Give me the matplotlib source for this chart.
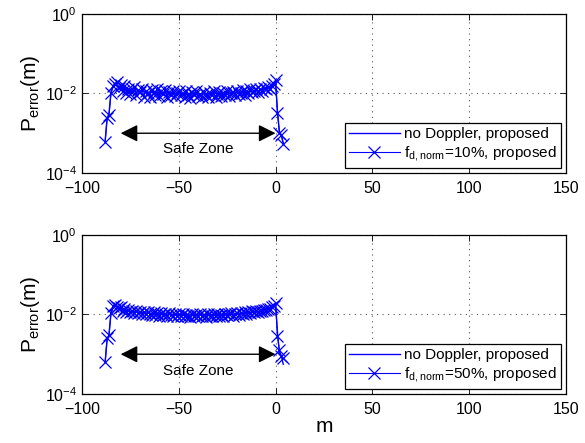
#!/usr/bin/env python
# -*- coding: utf-8 -*-
"""Position error vs m, two panels (10% and 50% Doppler)."""

import numpy as np
import matplotlib as mpl; mpl.use('Agg')
import matplotlib.pyplot as plt

plt.rcParams['font.family'] = ['Liberation Sans', 'DejaVu Sans']
plt.rcParams['mathtext.fontset'] = 'custom'
plt.rcParams['mathtext.rm'] = 'Liberation Sans'

# --- data (log10 of P_error), x = -88 .. 4 m
m_pos = np.arange(-88, 5)

log_no_doppler = [
    -3.20, -2.65, -2.50, -1.98, -1.85, -1.80, -1.80, -1.83, -1.86, -1.88,
    -1.89, -1.90, -1.91, -1.92, -1.93, -1.93, -1.94, -1.94, -1.95, -1.95,
    -1.96, -1.96, -1.96, -1.97, -1.97, -1.97, -1.98, -1.98, -1.98, -1.98,
    -1.99, -1.99, -1.99, -1.99, -1.99, -2.00, -2.00, -2.00, -2.00, -2.00,
    -2.00, -2.01, -2.01, -2.01, -2.01, -2.01, -2.01, -2.01, -2.01, -2.01,
    -2.01, -2.01, -2.01, -2.01, -2.01, -2.01, -2.01, -2.00, -2.00, -2.00,
    -2.00, -2.00, -2.00, -1.99, -1.99, -1.99, -1.99, -1.98, -1.98, -1.98,
    -1.97, -1.97, -1.97, -1.96, -1.96, -1.95, -1.95, -1.94, -1.94, -1.93,
    -1.92, -1.91, -1.90, -1.89, -1.87, -1.85, -1.82, -1.78, -1.72, -2.45,
    -2.95, -3.05, -3.25,
]

log_doppler_10 = [
    -3.22, -2.62, -2.55, -2.00, -1.80, -1.75, -1.70, -1.85, -1.78, -1.95,
    -1.82, -1.98, -1.88, -2.02, -1.90, -1.84, -2.05, -1.92, -1.97, -1.88,
    -2.08, -1.93, -1.99, -2.10, -1.91, -1.96, -2.04, -1.90, -2.07, -1.95,
    -2.02, -1.92, -2.09, -1.97, -2.03, -1.94, -2.06, -2.00, -1.93, -2.05,
    -1.98, -2.08, -1.95, -2.03, -2.12, -1.97, -2.04, -1.94, -2.06, -2.01,
    -2.09, -1.96, -2.03, -2.10, -1.99, -2.05, -1.95, -2.08, -2.02, -1.97,
    -2.06, -1.99, -2.04, -1.94, -2.07, -2.00, -1.96, -2.03, -1.93, -2.01,
    -1.98, -1.92, -2.04, -1.95, -1.99, -1.90, -1.97, -1.93, -1.89, -1.96,
    -1.88, -1.94, -1.86, -1.90, -1.84, -1.88, -1.80, -1.76, -1.65, -2.50,
    -3.00, -3.05, -3.27,
]

log_doppler_50 = [
    -3.20, -2.60, -2.52, -1.96, -1.78, -1.75, -1.80, -1.84, -1.82, -1.90,
    -1.86, -1.93, -1.88, -1.95, -1.91, -1.97, -1.92, -1.96, -1.93, -1.99,
    -1.94, -2.00, -1.95, -1.99, -2.02, -1.95, -2.01, -1.97, -2.03, -1.96,
    -2.02, -1.98, -2.04, -1.97, -2.02, -2.05, -1.98, -2.03, -2.00, -2.04,
    -1.98, -2.05, -2.01, -2.03, -2.06, -1.99, -2.04, -2.02, -2.05, -1.99,
    -2.04, -2.02, -2.06, -1.98, -2.03, -2.05, -2.00, -2.04, -1.99, -2.03,
    -2.01, -2.04, -1.98, -2.02, -2.00, -1.97, -2.03, -1.99, -1.96, -2.01,
    -1.97, -1.99, -1.95, -1.98, -1.94, -1.97, -1.92, -1.95, -1.91, -1.94,
    -1.90, -1.92, -1.88, -1.89, -1.85, -1.86, -1.82, -1.78, -1.70, -2.55,
    -2.90, -3.05, -3.10,
]

panels = [
    (log_doppler_10, r'f$_{\mathrm{d,norm}}$=10%, proposed'),
    (log_doppler_50, r'f$_{\mathrm{d,norm}}$=50%, proposed'),
]

# safe zone arrow (m) and its height
safe_zone = [-80, 0]
safe_y = 1e-3
safe_text_y = 3.9e-4

# --- figure
fig = plt.figure(figsize=[5.85, 4.43], dpi=100)
rects = [
    [0.140, 0.6095, 0.8275, 0.359],
    [0.140, 0.1106, 0.8275, 0.359],
]

for i, (log_dop, dop_label) in enumerate(panels):
    ax = fig.add_axes(rects[i])
    ax.plot(m_pos, 10**np.asarray(log_no_doppler), color='b', lw=1.0,
            label='no Doppler, proposed')
    ax.plot(m_pos, 10**np.asarray(log_dop), color='b', lw=0.8,
            marker='x', ms=8, mew=0.9, label=dop_label)

    ax.set_yscale('log')
    ax.set_xlim(-100, 150)
    ax.set_ylim(1e-4, 1e0)
    ax.set_xticks([-100, -50, 0, 50, 100, 150])
    ax.set_yticks([1e-4, 1e-2, 1e0])
    ax.yaxis.set_minor_locator(mpl.ticker.NullLocator())
    ax.tick_params(direction='in', top=True, right=True, labelsize=11.5,
                   length=4, width=0.6)
    ax.tick_params(axis='x', pad=6)
    ax.grid(True, which='major', color='0.35', ls=(0, (1, 4)), lw=0.8)
    for sp in ax.spines.values():
        sp.set_linewidth(0.9)

    ax.annotate('', xy=(safe_zone[1], safe_y), xytext=(safe_zone[0], safe_y),
                arrowprops=dict(arrowstyle='<|-|>', color='k', lw=1.0,
                                mutation_scale=26, shrinkA=0, shrinkB=0))
    ax.text(np.mean(safe_zone), safe_text_y, 'Safe Zone', ha='center',
            va='center', fontsize=11)

    ax.set_ylabel(r'P$_{\mathrm{error}}$(m)', fontsize=15, labelpad=2)
    leg = ax.legend(loc='lower right', fontsize=11, fancybox=False,
                    framealpha=1, edgecolor='k', borderaxespad=0.3,
                    handlelength=3.3, borderpad=0.3, labelspacing=0.2,
                    handletextpad=0.3)
    leg.get_frame().set_linewidth(0.9)
    if i == 1:
        ax.set_xlabel('m', fontsize=15, labelpad=0)

fig.savefig('out.png', dpi=100)
